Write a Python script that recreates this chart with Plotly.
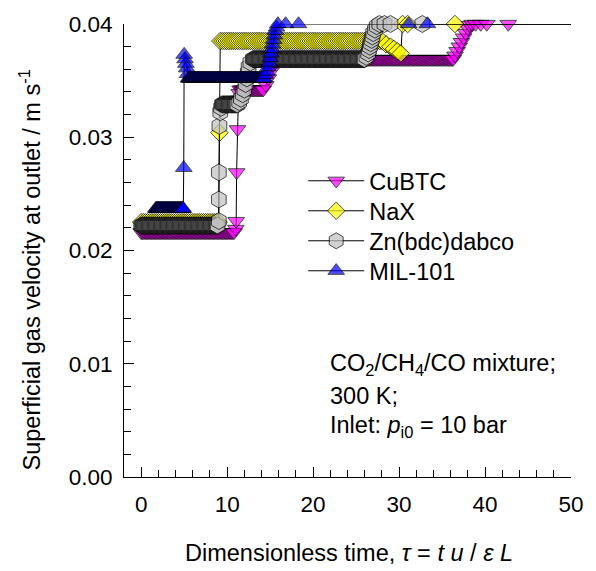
import numpy as np
import plotly.graph_objects as go

# ---- outlet superficial velocity records, tau (-) vs u (m/s) ----
# Flat stretches of each record: (tau_start, tau_end, u); along them the
# solver wrote one sample every *_dt.  The *_tau / *_u lists hold the
# samples on the fronts and the last few points at the feed velocity.

cubtc_plateaus = [(0.0, 10.8, 0.0216), (11.5, 14.2, 0.0342), (16.0, 36.3, 0.0369)]
cubtc_dt = 0.15
cubtc_tau = [11.0, 11.05, 11.1, 11.2, 11.3, 11.4,
             14.5, 14.8, 15.1, 15.4, 15.7,
             36.5, 36.75, 37.0, 37.25, 37.5, 37.75, 38.0, 38.2,
             38.5, 38.9, 39.5, 40.2, 42.7, 50.0]
cubtc_u = [0.0219, 0.0226, 0.0269, 0.0307, 0.0333, 0.0339,
           0.0346, 0.0352, 0.0358, 0.0364, 0.0368,
           0.0372, 0.0376, 0.0380, 0.0384, 0.0388, 0.0392, 0.0396, 0.0399,
           0.0400, 0.0400, 0.0400, 0.0400, 0.0400, 0.0400]

nax_plateaus = [(0.0, 9.0, 0.0225), (9.2, 28.0, 0.0385)]
nax_dt = 0.25
nax_tau = [9.1, 28.5, 29.0, 29.4, 29.8, 30.2, 30.4, 31.0, 36.5, 50.0]
nax_u = [0.0304, 0.0382, 0.0380, 0.0378, 0.0376, 0.0374, 0.0400, 0.0400, 0.0400, 0.0400]

zn_plateaus = [(0.0, 8.9, 0.0222), (9.4, 11.2, 0.0329), (13.0, 26.0, 0.0369)]
zn_dt = 0.1
zn_tau = [9.03, 9.03, 9.03, 9.1, 9.2, 9.3,
          11.4, 11.6, 11.8, 12.0, 12.15, 12.3, 12.4, 12.5, 12.7,
          26.2, 26.4, 26.5, 26.6, 26.7, 26.8, 26.9, 27.0, 27.2, 27.4,
          27.7, 28.3, 29.0, 32.7, 50.0]
zn_u = [0.0226, 0.0245, 0.0269, 0.0310, 0.0322, 0.0326,
        0.0331, 0.0334, 0.0338, 0.0342, 0.0347, 0.0352, 0.0357, 0.0362, 0.0366,
        0.0371, 0.0374, 0.0377, 0.0380, 0.0383, 0.0386, 0.0389, 0.0392, 0.0395, 0.0398,
        0.0400, 0.0400, 0.0400, 0.0400, 0.0400]

mil_plateaus = [(1.7, 4.9, 0.0237), (5.5, 14.3, 0.0352)]
mil_dt = 0.08
mil_tau = [4.95, 5.0, 5.1, 5.2, 5.3, 5.4,
           14.45, 14.6, 14.75, 14.9, 15.0, 15.1, 15.2, 15.3, 15.4, 15.5, 15.6, 15.75,
           15.9, 16.8, 18.3, 31.1, 33.3, 50.0]
mil_u = [0.0273, 0.0373, 0.0369, 0.0365, 0.0361, 0.0356,
         0.0355, 0.0358, 0.0362, 0.0366, 0.0370, 0.0374, 0.0378, 0.0382, 0.0386, 0.0390, 0.0394, 0.0397,
         0.0400, 0.0400, 0.0400, 0.0400, 0.0400, 0.0400]

series_names = ["CuBTC", "NaX", "Zn(bdc)dabco", "MIL-101"]
TAU_END = 50.0


def assemble(plateaus, dt, tau_pts, u_pts):
    taus = list(tau_pts)
    us = list(u_pts)
    for t0, t1, u in plateaus:
        n = int(round((t1 - t0) / dt)) + 1
        taus += list(np.linspace(t0, t1, n))
        us += [u] * n
    order = np.argsort(np.array(taus), kind="stable")
    return np.array(taus)[order], np.array(us)[order]


records = [
    assemble(cubtc_plateaus, cubtc_dt, cubtc_tau, cubtc_u),
    assemble(nax_plateaus, nax_dt, nax_tau, nax_u),
    assemble(zn_plateaus, zn_dt, zn_tau, zn_u),
    assemble(mil_plateaus, mil_dt, mil_tau, mil_u),
]

styles = [
    dict(symbol="triangle-down", color="#FF00FF", size=14.5),
    dict(symbol="diamond", color="#FFFF00", size=13.5),
    dict(symbol="hexagon", color="#C0C0C0", size=17),
    dict(symbol="triangle-up", color="#0000FF", size=14.5),
]

FONT = "Liberation Sans, Arial, sans-serif"
FS = 23.5        # titles, legend, notes
FS_TICK = 22.5   # tick labels

W, H = 596, 571
ML, MR, MT, MB = 124, 18, 24, 94
pw, ph = W - ML - MR, H - MT - MB


def px_to_paper(xp, yp):
    return (xp - ML) / pw, (H - MB - yp) / ph


# one single-entry legend per series so the key rows sit at a fixed pitch
legend_ids = ["legend", "legend2", "legend3", "legend4"]
legend_rows = [181, 211, 241, 271]

fig = go.Figure()
for name, (t, u), st, lid in zip(series_names, records, styles, legend_ids):
    # the record runs on to the end of the axis; no symbol on that closing sample
    sizes = np.where(t >= TAU_END, 0, st["size"])
    fig.add_trace(go.Scatter(
        x=t, y=u, name=name, mode="lines+markers",
        line=dict(color="black", width=1),
        marker=dict(symbol=st["symbol"], color=st["color"], size=sizes,
                    line=dict(color="black", width=1)),
        cliponaxis=False, legend=lid,
    ))

axis_common = dict(
    showline=True, linecolor="black", linewidth=1, mirror=False,
    showgrid=False, zeroline=False,
    ticks="inside", ticklen=10, tickwidth=1, tickcolor="black",
    tickfont=dict(family=FONT, size=FS_TICK, color="black"),
)

fig.update_xaxes(
    range=[-2, 50], tickmode="array", tickvals=[0, 10, 20, 30, 40, 50],
    minor=dict(ticks="inside", ticklen=7, tickwidth=1, tickcolor="black", dtick=2, tick0=0),
    ticklabelstandoff=7,
    **axis_common,
)
fig.update_yaxes(
    range=[0, 0.04], tickmode="array", tickvals=[0, 0.01, 0.02, 0.03, 0.04],
    tickformat=".2f",
    minor=dict(ticks="inside", ticklen=7, tickwidth=1, tickcolor="black", dtick=0.002, tick0=0),
    ticklabelstandoff=6,
    **axis_common,
)

annotations = []
xa, ya = px_to_paper(353, 553)
annotations.append(dict(
    text="Dimensionless time, <i>τ</i> = <i>t u</i> / <i>ε L</i>",
    x=xa, y=ya, xref="paper", yref="paper", showarrow=False,
    xanchor="center", yanchor="middle", font=dict(family=FONT, size=FS, color="black")))
xa, ya = px_to_paper(29, 270)
annotations.append(dict(
    text="Superficial gas velocity at outlet / m s<sup>-1</sup>",
    x=xa, y=ya, xref="paper", yref="paper", showarrow=False, textangle=-90,
    xanchor="center", yanchor="middle", font=dict(family=FONT, size=FS, color="black")))

info_lines = ["CO<sub>2</sub>/CH<sub>4</sub>/CO mixture;", "300 K;",
              "Inlet: <i>p</i><sub>i0</sub> = 10 bar"]
for line, yp in zip(info_lines, [364, 396, 426]):
    xa, ya = px_to_paper(331, yp)
    annotations.append(dict(
        text=line, x=xa, y=ya, xref="paper", yref="paper", showarrow=False,
        xanchor="left", yanchor="middle", font=dict(family=FONT, size=FS, color="black")))

legend_layout = {}
for lid, row in zip(legend_ids, legend_rows):
    lx, ly = px_to_paper(306, row)
    legend_layout[lid] = dict(
        x=lx, y=ly, xanchor="left", yanchor="middle",
        bgcolor="rgba(0,0,0,0)", borderwidth=0, itemwidth=56,
        font=dict(family=FONT, size=FS, color="black"))

fig.update_layout(
    width=W, height=H,
    margin=dict(l=ML, r=MR, t=MT, b=MB),
    paper_bgcolor="white", plot_bgcolor="white",
    font=dict(family=FONT, size=FS, color="black"),
    showlegend=True,
    annotations=annotations,
    **legend_layout,
)

fig.write_html("out.html")
